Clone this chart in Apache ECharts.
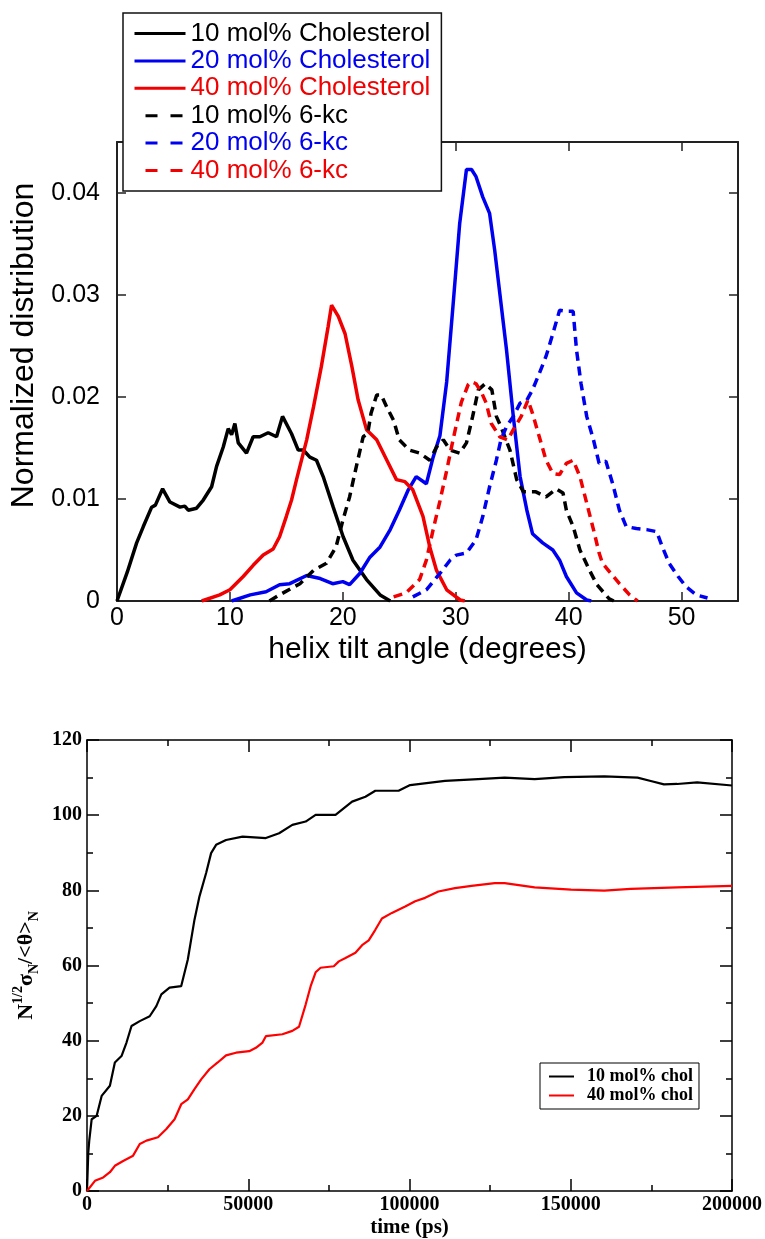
<!DOCTYPE html>
<html>
<head>
<meta charset="utf-8">
<script src="https://cdn.jsdelivr.net/npm/echarts@6/dist/echarts.min.js"></script>
<style>
html,body{margin:0;padding:0;background:#fff;}
#c{width:765px;height:1239px;}
</style>
</head>
<body>
<div id="c"></div>
<script>
// ---------- Top chart: helix tilt angle distributions ----------
var tiltTicks = [0, 10, 20, 30, 40, 50];
var distTicks = [0, 0.01, 0.02, 0.03, 0.04];

var chol10 = [[0,0],[0.9,0.0028],[1.74,0.0057],[2.33,0.0073],[3.07,0.0092],[3.4,0.0094],[4.04,0.011],[4.69,0.0097],[5.58,0.0092],[6.0,0.0093],[6.31,0.0089],[7.05,0.0091],[7.64,0.0099],[8.38,0.0112],[8.82,0.0132],[9.41,0.0151],[9.85,0.0169],[10.15,0.0163],[10.44,0.0174],[10.74,0.0155],[11.47,0.0145],[12.06,0.0161],[12.65,0.0161],[13.39,0.0165],[14.13,0.0161],[14.66,0.0181],[15.46,0.0164],[16.05,0.0148],[16.5,0.0148],[17.08,0.0141],[17.67,0.0138],[18.26,0.0122],[19.15,0.0092],[20.03,0.0063],[20.9,0.004],[22.1,0.0021],[23.3,0.0006],[24.2,0]];
var chol20 = [[10.15,0],[11.8,0.0006],[13.2,0.0009],[14.4,0.0016],[15.3,0.0017],[16.8,0.0025],[18.0,0.0022],[19.1,0.0017],[20.0,0.0019],[20.6,0.0016],[21.5,0.0027],[22.4,0.0043],[23.3,0.0053],[24.2,0.007],[25.0,0.0089],[25.8,0.0109],[26.5,0.0122],[27.4,0.0115],[28.0,0.0141],[28.6,0.0162],[29.2,0.0215],[29.8,0.0295],[30.35,0.037],[30.95,0.0423],[31.4,0.0423],[31.8,0.0416],[32.4,0.0396],[33.0,0.038],[33.45,0.0344],[33.9,0.0302],[34.5,0.0246],[35.1,0.0181],[35.7,0.0122],[36.3,0.0089],[36.8,0.0066],[37.7,0.0057],[38.6,0.005],[39.2,0.004],[39.8,0.0024],[40.7,0.0008],[41.6,0.0001],[42,0]];
var chol40 = [[7.5,0],[9.1,0.0006],[10.0,0.0011],[11.18,0.0024],[12.06,0.0035],[12.95,0.0045],[13.83,0.0051],[14.4,0.0063],[15.0,0.0083],[15.46,0.0099],[15.9,0.0119],[16.8,0.0158],[17.4,0.019],[18.1,0.023],[18.7,0.0269],[19.0,0.029],[19.6,0.0279],[20.2,0.0262],[20.8,0.023],[21.36,0.0197],[22.1,0.0168],[23.0,0.0158],[23.9,0.0138],[24.75,0.0119],[25.5,0.0117],[26.2,0.0109],[27.1,0.0083],[27.7,0.0053],[28.3,0.003],[29.2,0.0011],[30.4,0.0001],[30.8,0]];
var kc10 = [[13.5,0],[14.4,0.0006],[16.2,0.0017],[17.4,0.003],[18.55,0.0037],[19.4,0.0053],[20.0,0.0079],[20.6,0.0102],[21.2,0.0132],[21.8,0.0161],[22.2,0.0164],[22.5,0.0184],[23.0,0.0202],[23.4,0.0202],[23.9,0.019],[24.5,0.0177],[25.0,0.0158],[25.9,0.0148],[26.8,0.0145],[27.7,0.0138],[28.3,0.0151],[28.9,0.0158],[29.5,0.0148],[30.35,0.0145],[30.95,0.0155],[31.5,0.0181],[32.0,0.0207],[32.6,0.0213],[33.2,0.0207],[33.6,0.0181],[34.0,0.0171],[34.8,0.0148],[35.4,0.0119],[36.0,0.0107],[37.1,0.0107],[38.0,0.0102],[38.9,0.011],[39.5,0.0106],[39.8,0.0089],[40.4,0.0073],[41.0,0.005],[41.9,0.0029],[42.5,0.0016],[43.6,0.0002],[44,0]];
var kc20 = [[26.2,0.0004],[27.4,0.0011],[28.6,0.0027],[29.5,0.004],[30.06,0.0045],[30.95,0.0047],[31.8,0.006],[32.4,0.0083],[33.0,0.0112],[33.6,0.0138],[34.0,0.0158],[34.5,0.0171],[35.1,0.0181],[35.7,0.0194],[36.3,0.0197],[36.8,0.0207],[37.4,0.0223],[38.0,0.024],[38.6,0.0262],[39.2,0.0285],[39.8,0.0284],[40.4,0.0284],[40.7,0.0246],[41.1,0.0213],[41.6,0.0181],[42.2,0.0158],[42.7,0.0135],[43.3,0.0137],[43.9,0.0115],[44.5,0.0089],[45.1,0.0073],[46.0,0.0071],[46.9,0.007],[47.8,0.0068],[48.3,0.0053],[48.9,0.0037],[49.7,0.0024],[50.4,0.0014],[51.3,0.0006],[52.3,0.0003]];
var kc40 = [[24.5,0.0004],[25.6,0.0008],[26.8,0.0021],[27.4,0.004],[28.0,0.007],[28.6,0.0098],[29.2,0.0128],[29.8,0.016],[30.5,0.0195],[31.1,0.0212],[31.4,0.0215],[31.8,0.0213],[32.3,0.0204],[32.7,0.0194],[33.15,0.0174],[33.9,0.0161],[34.6,0.0158],[35.1,0.0168],[35.8,0.0181],[36.4,0.0197],[36.8,0.0184],[37.4,0.0161],[38.0,0.0138],[38.6,0.0125],[39.2,0.0124],[39.8,0.0135],[40.4,0.0138],[41.0,0.0122],[41.6,0.0096],[42.2,0.007],[42.7,0.0047],[43.0,0.0037],[43.9,0.0025],[44.5,0.0017],[45.4,0.0006],[46.1,0]];

var topNames = ['10 mol% Cholesterol','20 mol% Cholesterol','40 mol% Cholesterol','10 mol% 6-kc','20 mol% 6-kc','40 mol% 6-kc'];

// ---------- Bottom chart: convergence vs time ----------
var timeTicks = [0, 50000, 100000, 150000, 200000];
var ratioTicks = [0, 20, 40, 60, 80, 100, 120];
var chol10Time = [[0,0],[400,10.3],[710,13.5],[1450,19.1],[3000,20],[4540,25.3],[7100,28],[8640,34.2],[10700,35.9],[12250,39.5],[13800,43.9],[16360,45.2],[19440,46.5],[21500,49.2],[23050,52.3],[25600,54.1],[29200,54.5],[31260,61.6],[33330,72.2],[34880,78.4],[36940,84.6],[38480,89.9],[40030,92.1],[43110,93.4],[48240,94.3],[55460,93.9],[59570,95.2],[63670,97.4],[67800,98.3],[70890,100.1],[77060,100.1],[82200,103.6],[86330,104.9],[89400,106.5],[96600,106.5],[100200,108],[111000,109.1],[121300,109.6],[129500,110],[138800,109.6],[148000,110.1],[160400,110.3],[170700,110],[174800,109.1],[178900,108.2],[183000,108.3],[189200,108.7],[200000,107.9]];
var chol40Time = [[0,0],[2470,2.7],[5030,3.6],[7100,5.0],[8640,6.7],[11200,8.0],[14290,9.4],[16360,12.5],[18420,13.4],[22000,14.3],[24600,16.5],[27160,19.1],[29220,23.1],[31270,24.4],[33330,27.1],[35400,29.7],[37960,32.4],[40530,34.2],[43110,36.1],[46200,36.8],[50300,37.2],[52370,38.1],[54420,39.5],[55460,41.2],[60590,41.7],[63670,42.6],[65740,43.7],[67800,49.6],[69350,54.5],[70890,58.2],[72430,59.4],[76540,59.8],[78090,61.1],[80150,62.0],[83240,63.4],[85300,65.4],[87350,66.7],[89400,69.5],[91450,72.5],[94540,74.0],[98670,75.7],[101760,77.1],[104840,78.0],[108950,79.7],[114100,80.6],[119230,81.2],[126440,81.9],[129500,81.9],[138800,80.8],[150100,80.2],[160400,79.9],[168600,80.4],[183000,80.8],[200000,81.2]];
var bottomNames = ['10 mol% chol', '40 mol% chol'];

var SANS = 'Liberation Sans, Arial, sans-serif';
var SERIF = 'Liberation Serif, Times New Roman, serif';

function topAxis(pos, labels) {
  return {
    type: 'value', gridIndex: 0, position: pos, min: 0, max: 55, interval: 10,
    axisLine: {show: true, onZero: false, lineStyle: {color: '#222', width: 2}},
    axisTick: {show: true, inside: true, length: 9, lineStyle: {color: '#222', width: 1.5},
      customValues: tiltTicks},
    axisLabel: {show: labels, customValues: tiltTicks, fontSize: 25, color: '#000', fontFamily: SANS, margin: 5},
    splitLine: {show: false}
  };
}
function topYAxis(pos, labels) {
  return {
    type: 'value', gridIndex: 0, position: pos, min: 0, max: 0.045, interval: 0.01,
    axisLine: {show: true, onZero: false, lineStyle: {color: '#222', width: 2}},
    axisTick: {show: true, inside: true, length: 9, lineStyle: {color: '#222', width: 1.5},
      customValues: distTicks},
    axisLabel: {show: labels, customValues: distTicks, fontSize: 25, color: '#000', fontFamily: SANS, margin: 17},
    splitLine: {show: false}
  };
}
function botXAxis(pos, labels) {
  return {
    type: 'value', gridIndex: 1, position: pos, min: 0, max: 200000, interval: 50000,
    axisLine: {show: true, onZero: false, lineStyle: {color: '#000', width: 1.5}},
    axisTick: {show: true, inside: true, length: 12, lineStyle: {color: '#000', width: 1.5}},
    minorTick: {show: true, splitNumber: 2, length: 6, lineStyle: {color: '#000', width: 1.5}},
    axisLabel: {show: labels, fontSize: 20, fontWeight: 'bold', color: '#000', fontFamily: SERIF, margin: 4,
      formatter: function (v) { return String(v); }},
    splitLine: {show: false}, minorSplitLine: {show: false}
  };
}
function botYAxis(pos, labels) {
  return {
    type: 'value', gridIndex: 1, position: pos, min: 0, max: 120, interval: 20,
    axisLine: {show: true, onZero: false, lineStyle: {color: '#000', width: 1.5}},
    axisTick: {show: true, inside: true, length: 12, lineStyle: {color: '#000', width: 1.5}},
    minorTick: {show: true, splitNumber: 2, length: 6, lineStyle: {color: '#000', width: 1.5}},
    axisLabel: {show: labels, fontSize: 20, fontWeight: 'bold', color: '#000', fontFamily: SERIF, margin: 5},
    splitLine: {show: false}, minorSplitLine: {show: false}
  };
}

var xTopB = topAxis('bottom', true);
xTopB.name = 'helix tilt angle (degrees)';
xTopB.nameLocation = 'middle';
xTopB.nameGap = 34;
xTopB.nameTextStyle = {fontSize: 30, color: '#000', fontFamily: SANS};

var yTopL = topYAxis('left', true);
yTopL.name = 'Normalized distribution';
yTopL.nameLocation = 'middle';
yTopL.nameGap = 75;
yTopL.nameRotate = 90;
yTopL.nameTextStyle = {fontSize: 32, color: '#000', fontFamily: SANS, padding: [0, 0, 0, 52]};

var xBotB = botXAxis('bottom', true);
xBotB.name = 'time (ps)';
xBotB.nameLocation = 'middle';
xBotB.nameGap = 26;
xBotB.nameTextStyle = {fontSize: 21, fontWeight: 'bold', color: '#000', fontFamily: SERIF};

var yBotL = botYAxis('left', true);
yBotL.name = '{n|N}{sup|1/2}{n|σ}{sub|N}{n|/<θ>}{sub|N}';
yBotL.nameLocation = 'middle';
yBotL.nameGap = 40;
yBotL.nameRotate = 90;
yBotL.nameTextStyle = {
  color: '#000', fontFamily: SERIF, fontWeight: 'bold',
  rich: {
    n: {fontSize: 22, fontWeight: 'bold', fontFamily: SERIF, color: '#000', lineHeight: 30, verticalAlign: 'middle'},
    sup: {fontSize: 14, fontWeight: 'bold', fontFamily: SERIF, color: '#000', lineHeight: 30, verticalAlign: 'top'},
    sub: {fontSize: 14, fontWeight: 'bold', fontFamily: SERIF, color: '#000', lineHeight: 30, verticalAlign: 'bottom'}
  }
};

function topSeries(name, data, color, dashed) {
  return {
    name: name, type: 'line', xAxisIndex: 0, yAxisIndex: 0, data: data,
    symbol: 'none', showSymbol: false, smooth: false, animation: false, z: 3,
    lineStyle: {color: color, width: 3.5, type: dashed ? [9, 6] : 'solid'},
    itemStyle: {color: color}
  };
}
function botSeries(name, data, color) {
  return {
    name: name, type: 'line', xAxisIndex: 2, yAxisIndex: 2, data: data,
    symbol: 'none', showSymbol: false, animation: false,
    lineStyle: {color: color, width: 2.2}, itemStyle: {color: color}
  };
}

var topColors = ['#000000', '#0000f0', '#f00000', '#000000', '#0000f0', '#f00000'];
var topData = [chol10, chol20, chol40, kc10, kc20, kc40];
var series = [];
for (var i = 0; i < 6; i++) series.push(topSeries(topNames[i], topData[i], topColors[i], i >= 3));
series.push(botSeries(bottomNames[0], chol10Time, '#000000'));
series.push(botSeries(bottomNames[1], chol40Time, '#ff0000'));

var topLegendData = topNames.map(function (n, i) {
  var d = {name: n, textStyle: {color: topColors[i]}, itemStyle: {opacity: 0}};
  d.lineStyle = (i >= 3) ? {type: [12, 13], dashOffset: 14, width: 3} : {width: 3};
  return d;
});

var option = {
  backgroundColor: '#fff',
  animation: false,
  grid: [
    {left: 117, top: 142, width: 621, height: 459, containLabel: false},
    {left: 87, top: 740, width: 647, height: 452, containLabel: false}
  ],
  xAxis: [xTopB, topAxis('top', false), xBotB, botXAxis('top', false)],
  yAxis: [yTopL, topYAxis('right', false), yBotL, botYAxis('right', false)],
  legend: [
    {
      data: topLegendData, orient: 'vertical', left: 123, top: 13, z: 10,
      backgroundColor: '#fff', borderColor: '#111', borderWidth: 1.5,
      padding: [7, 11, 7, 10], itemGap: 0.4, itemWidth: 51, itemHeight: 14,
      selectedMode: false, itemStyle: {opacity: 0},
      textStyle: {fontSize: 26, fontFamily: SANS, lineHeight: 27}
    },
    {
      data: bottomNames.map(function (n) { return {name: n, itemStyle: {opacity: 0}}; }),
      orient: 'vertical', left: 540, top: 1063, z: 10,
      backgroundColor: '#fff', borderColor: '#000', borderWidth: 1,
      padding: [4, 6, 4, 8], itemGap: 0, itemWidth: 25, itemHeight: 10,
      selectedMode: false, itemStyle: {opacity: 0},
      textStyle: {fontSize: 18, fontWeight: 'bold', fontFamily: SERIF, color: '#000', lineHeight: 19, padding: [0, 0, 0, 8]}
    }
  ],
  series: series
};

var chart = echarts.init(document.getElementById('c'), null, {renderer: 'canvas'});
chart.setOption(option);
</script>
</body>
</html>
